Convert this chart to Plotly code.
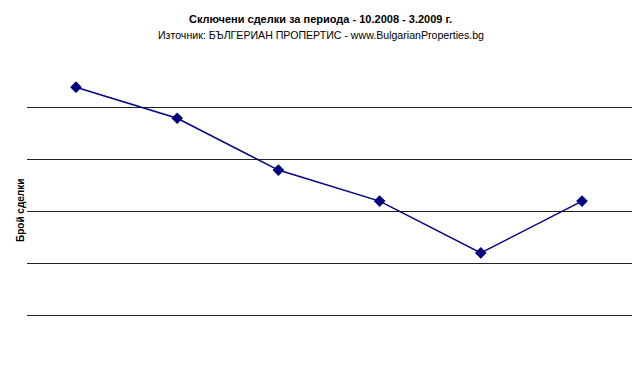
import plotly.graph_objects as go

months = ["10.2008", "11.2008", "12.2008", "1.2009", "2.2009", "3.2009"]
deals = [44, 38, 28, 22, 12, 22]
grid_vals = [0, 10, 20, 30, 40]

title = "Сключени сделки за периода - 10.2008 - 3.2009 г."
subtitle = "Източник: БЪЛГЕРИАН ПРОПЕРТИС - www.BulgarianProperties.bg"
ytitle = "Брой сделки"

fig = go.Figure()
fig.add_trace(go.Scatter(
    x=list(range(len(months))), y=deals, mode="lines+markers",
    line=dict(color="#000080", width=1.5),
    marker=dict(symbol="diamond", size=9, color="#000080"),
    text=months, hoverinfo="text+y", cliponaxis=False,
))

fig.update_layout(
    width=640, height=366,
    margin=dict(l=27, r=8, t=60, b=26),
    paper_bgcolor="white", plot_bgcolor="white",
    showlegend=False,
    font=dict(family="Liberation Sans, Arial, sans-serif", color="black"),
    xaxis=dict(range=[-0.484, 5.494], showgrid=False, zeroline=False,
               showticklabels=False, showline=False, ticks=""),
    yaxis=dict(range=[-4.819, 49.253], tickvals=grid_vals, showgrid=True,
               gridcolor="#222222", gridwidth=1, zeroline=False,
               showticklabels=False, showline=False, ticks=""),
    annotations=[
        dict(text="<b>" + title + "</b>", showarrow=False, font=dict(size=11)),
        dict(text=subtitle, showarrow=False, font=dict(size=10.6)),
        dict(text="<b>" + ytitle + "</b>", showarrow=False, textangle=-90,
             font=dict(size=10)),
    ],
)

H_plot = 366 - 60 - 26
W_plot = 640 - 27 - 8
def py(p):
    return (366 - 26 - p) / H_plot
def px(p):
    return (p - 27) / W_plot

fig.layout.annotations[0].update(x=px(320), y=py(19), xanchor="center", yanchor="middle",
                                 xref="paper", yref="paper")
fig.layout.annotations[1].update(x=px(321), y=py(35), xanchor="center", yanchor="middle",
                                 xref="paper", yref="paper")
fig.layout.annotations[2].update(x=px(20), y=py(211), xanchor="center", yanchor="middle",
                                 xref="paper", yref="paper")

fig.write_html("out.html")
